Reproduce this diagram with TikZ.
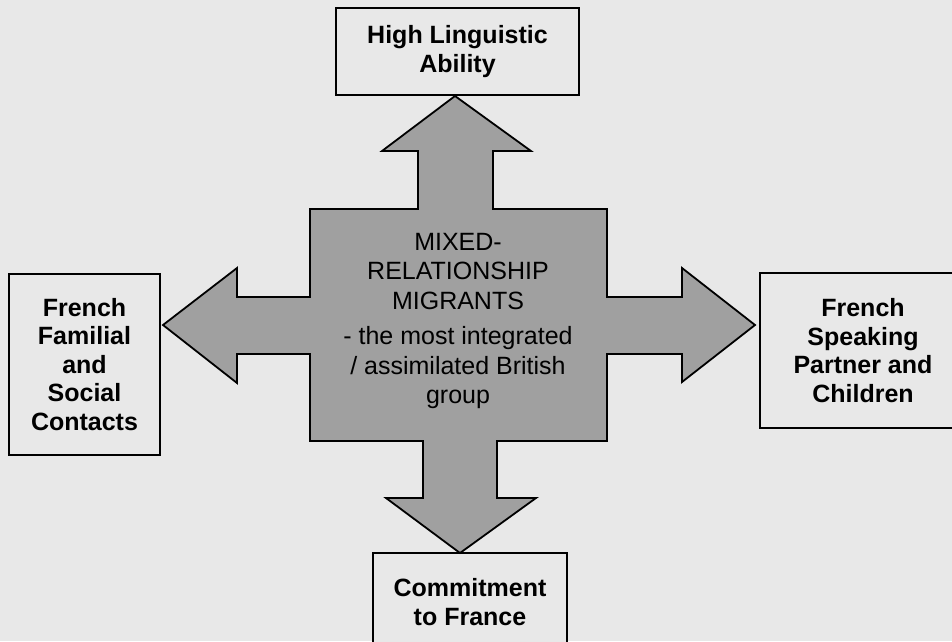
\documentclass[tikz,border=0pt]{standalone}
\usepackage{fontspec}
\setmainfont{Liberation Sans}
\definecolor{pagegray}{RGB}{232,232,232}
\definecolor{arrowgray}{RGB}{160,160,160}
\begin{document}
\begin{tikzpicture}[x=1pt,y=-1pt,
  infobox/.style={draw=black, line width=1.8pt, fill=pagegray,
    font=\fontsize{25pt}{28.5pt}\selectfont\bfseries, align=center, inner sep=0pt},
  crossshape/.style={draw=black, line width=1.8pt, fill=arrowgray, line join=miter},
  coretext/.style={font=\fontsize{25pt}{29.5pt}\selectfont, align=center, inner sep=0pt}]

% page
\fill[pagegray] (0,0) rectangle (952,641);
\useasboundingbox (0,0) rectangle (952,641);

% four outcome boxes
\node[infobox, minimum width=243pt, minimum height=87pt] (ability) at (457.5,51.5)
  {High Linguistic\\Ability};
\node[infobox, minimum width=151pt, minimum height=181pt] (contacts) at (84.5,364.5)
  {French\\Familial\\and\\Social\\Contacts};
\node[infobox, minimum width=206pt, minimum height=155pt] (partner) at (863,350.5)
  {French\\Speaking\\Partner and\\Children};
\node[infobox, minimum width=194pt, minimum height=98pt] (commit) at (470,602)
  {Commitment\\to France};

% central block with four arrows
\coordinate (tipN) at (455,96);
\coordinate (tipE) at (755,325);
\coordinate (tipS) at (460,553);
\coordinate (tipW) at (163,325);
\draw[crossshape]
  (tipN) -- (531,151) -- (493,151) -- (493,209) -- (607,209) -- (607,297)
  -- (682,297) -- (682,268) -- (tipE) -- (682,382) -- (682,354) -- (607,354)
  -- (607,441) -- (497,441) -- (497,498) -- (536,498) -- (tipS) -- (386,498)
  -- (423,498) -- (423,441) -- (310,441) -- (310,354) -- (237,354) -- (237,383)
  -- (tipW) -- (237,268) -- (237,297) -- (310,297) -- (310,209) -- (418,209)
  -- (418,151) -- (382,151) -- cycle;

\node[coretext] (core) at (458,321)
  {MIXED-\\RELATIONSHIP\\MIGRANTS\\[6pt]- the most integrated\\/ assimilated British\\group};

\end{tikzpicture}
\end{document}
